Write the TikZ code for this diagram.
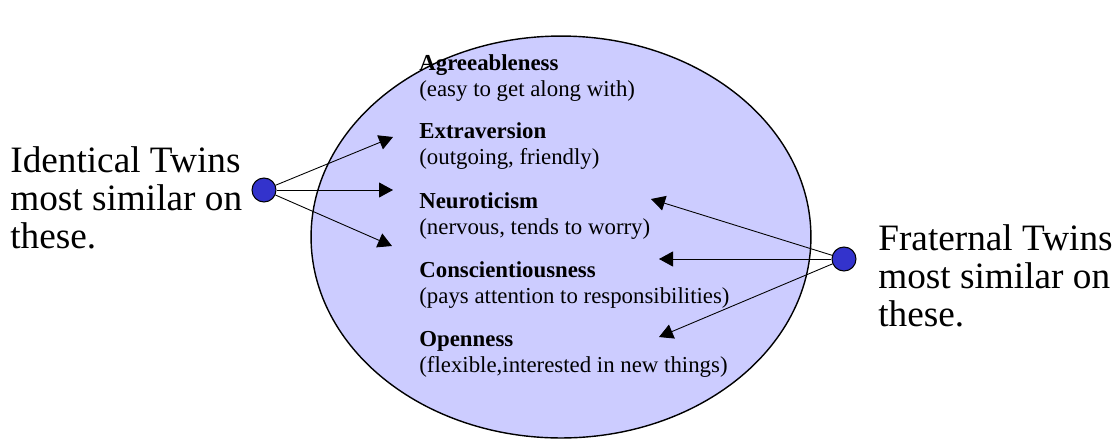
\documentclass[tikz,border=0pt]{standalone}
\usepackage{fontspec}
\setmainfont{Liberation Serif}
\usetikzlibrary{arrows.meta}
\definecolor{ovalfill}{RGB}{204,204,255}
\definecolor{dotfill}{RGB}{51,51,204}

\begin{document}
\begin{tikzpicture}[x=0.02cm,y=-0.02cm,
  twin/.style={circle,draw,fill=dotfill,minimum size=0.48cm,inner sep=0pt,line width=0.6pt},
  trait/.style={anchor=west,align=left,inner sep=0pt,font=\fontsize{13}{14.7}\selectfont},
  side/.style={anchor=west,align=left,inner sep=0pt,font=\fontsize{21.2}{21.6}\selectfont},
  link/.style={-{Triangle[length=0.28cm,width=0.3cm]},line width=0.5pt}]
\useasboundingbox (0,0) rectangle (1117,441);

\draw[fill=ovalfill,line width=0.8pt] (561,237) ellipse [x radius=5cm, y radius=4.02cm];

\node[trait] (agree) at (419,78) {\textbf{Agreeableness}\\(easy to get along with)};
\node[trait] (extra) at (419,146) {\textbf{Extraversion}\\(outgoing, friendly)};
\node[trait] (neuro) at (419,216) {\textbf{Neuroticism}\\(nervous, tends to worry)};
\node[trait] (consc) at (419,285) {\textbf{Conscientiousness}\\(pays attention to responsibilities)};
\node[trait] (open) at (419,354) {\textbf{Openness}\\(flexible,interested in new things)};

\node[side] (idtext) at (10,198) {Identical Twins\\most similar on\\these.};
\node[side] (frtext) at (878,276) {Fraternal Twins\\most similar on\\these.};

\node[twin] (iddot) at (264,190) {};
\node[twin] (frdot) at (844,259) {};

% arrow ends
\coordinate (e1) at (393,137);
\coordinate (e2) at (393,190);
\coordinate (e3) at (392,246);
\coordinate (f1) at (651,199);
\coordinate (f2) at (659,259);
\coordinate (f3) at (659,337);

\draw[link] (iddot) -- (e1);
\draw[link] (iddot) -- (e2);
\draw[link] (iddot) -- (e3);
\draw[link] (frdot) -- (f1);
\draw[link] (frdot) -- (f2);
\draw[link] (frdot) -- (f3);
\end{tikzpicture}
\end{document}
